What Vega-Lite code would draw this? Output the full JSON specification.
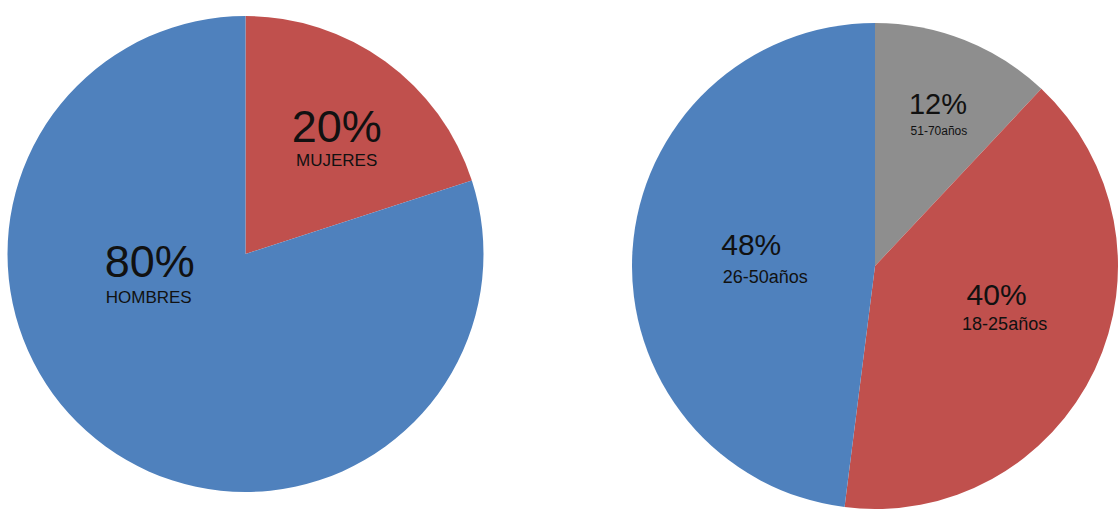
{
  "$schema": "https://vega.github.io/schema/vega-lite/v6.json",
  "padding": 0,
  "background": "white",
  "spacing": 141,
  "resolve": {"scale": {"color": "independent", "theta": "independent"}},
  "config": {"view": {"stroke": null}, "text": {"font": "Liberation Sans"}},
  "datasets": {
    "genero": [
      {"orden": 1, "categoria": "MUJERES", "valor": 0.2},
      {"orden": 2, "categoria": "HOMBRES", "valor": 0.8}
    ],
    "edad": [
      {"orden": 1, "categoria": "51-70años", "valor": 0.12},
      {"orden": 2, "categoria": "18-25años", "valor": 0.40},
      {"orden": 3, "categoria": "26-50años", "valor": 0.48}
    ]
  },
  "hconcat": [
    {
      "width": 491,
      "height": 508,
      "data": {"name": "genero"},
      "encoding": {
        "theta": {"field": "valor", "type": "quantitative", "stack": true},
        "order": {"field": "orden", "type": "quantitative"}
      },
      "layer": [
        {
          "mark": {"type": "arc", "radius": 238},
          "encoding": {
            "color": {"field": "categoria", "type": "nominal", "legend": null,
              "scale": {"domain": ["MUJERES", "HOMBRES"], "range": ["#C0504D", "#4F81BD"]}}
          }
        },
        {
          "mark": {"type": "text", "radius": 150, "dx": 3, "dy": 9, "fontSize": 45, "color": "#111111", "baseline": "alphabetic"},
          "encoding": {"detail": {"field": "categoria"}, "text": {"condition": {"test": "datum.categoria === 'MUJERES'", "field": "valor", "type": "quantitative", "format": ".0%"}, "value": ""}}
        },
        {
          "mark": {"type": "text", "radius": 150, "dx": 3, "dy": 33, "fontSize": 17, "color": "#111111", "baseline": "alphabetic"},
          "encoding": {"detail": {"field": "categoria"}, "text": {"condition": {"test": "datum.categoria === 'MUJERES'", "field": "categoria", "type": "nominal"}, "value": ""}}
        },
        {
          "mark": {"type": "text", "radius": 100, "dx": -37, "dy": -58, "fontSize": 45, "color": "#111111", "baseline": "alphabetic"},
          "encoding": {"detail": {"field": "categoria"}, "text": {"condition": {"test": "datum.categoria === 'HOMBRES'", "field": "valor", "type": "quantitative", "format": ".0%"}, "value": ""}}
        },
        {
          "mark": {"type": "text", "radius": 100, "dx": -38, "dy": -32, "fontSize": 17, "color": "#111111", "baseline": "alphabetic"},
          "encoding": {"detail": {"field": "categoria"}, "text": {"condition": {"test": "datum.categoria === 'HOMBRES'", "field": "categoria", "type": "nominal"}, "value": ""}}
        }
      ]
    },
    {
      "width": 486,
      "height": 514,
      "data": {"name": "edad"},
      "encoding": {
        "theta": {"field": "valor", "type": "quantitative", "stack": true},
        "order": {"field": "orden", "type": "quantitative"}
      },
      "layer": [
        {
          "mark": {"type": "arc", "radius": 243, "yOffset": 9},
          "encoding": {
            "color": {"field": "categoria", "type": "nominal", "legend": null,
              "scale": {"domain": ["51-70años", "18-25años", "26-50años"], "range": ["#8E8E8E", "#C0504D", "#4F81BD"]}}
          }
        },
        {
          "mark": {"type": "text", "radius": 160, "dx": 4, "dy": 6, "fontSize": 29, "color": "#111111", "baseline": "alphabetic"},
          "encoding": {"detail": {"field": "categoria"}, "text": {"condition": {"test": "datum.categoria === '51-70años'", "field": "valor", "type": "quantitative", "format": ".0%"}, "value": ""}}
        },
        {
          "mark": {"type": "text", "radius": 160, "dx": 5, "dy": 27, "fontSize": 12, "color": "#111111", "baseline": "alphabetic"},
          "encoding": {"detail": {"field": "categoria"}, "text": {"condition": {"test": "datum.categoria === '51-70años'", "field": "categoria", "type": "nominal"}, "value": ""}}
        },
        {
          "mark": {"type": "text", "radius": 130, "dx": 4, "dy": -7, "fontSize": 30, "color": "#111111", "baseline": "alphabetic"},
          "encoding": {"detail": {"field": "categoria"}, "text": {"condition": {"test": "datum.categoria === '18-25años'", "field": "valor", "type": "quantitative", "format": ".0%"}, "value": ""}}
        },
        {
          "mark": {"type": "text", "radius": 130, "dx": 12, "dy": 18, "fontSize": 18, "color": "#111111", "baseline": "alphabetic"},
          "encoding": {"detail": {"field": "categoria"}, "text": {"condition": {"test": "datum.categoria === '18-25años'", "field": "categoria", "type": "nominal"}, "value": ""}}
        },
        {
          "mark": {"type": "text", "radius": 120, "dx": -4, "dy": 6, "fontSize": 30, "color": "#111111", "baseline": "alphabetic"},
          "encoding": {"detail": {"field": "categoria"}, "text": {"condition": {"test": "datum.categoria === '26-50años'", "field": "valor", "type": "quantitative", "format": ".0%"}, "value": ""}}
        },
        {
          "mark": {"type": "text", "radius": 120, "dx": 10, "dy": 34, "fontSize": 18, "color": "#111111", "baseline": "alphabetic"},
          "encoding": {"detail": {"field": "categoria"}, "text": {"condition": {"test": "datum.categoria === '26-50años'", "field": "categoria", "type": "nominal"}, "value": ""}}
        }
      ]
    }
  ]
}
